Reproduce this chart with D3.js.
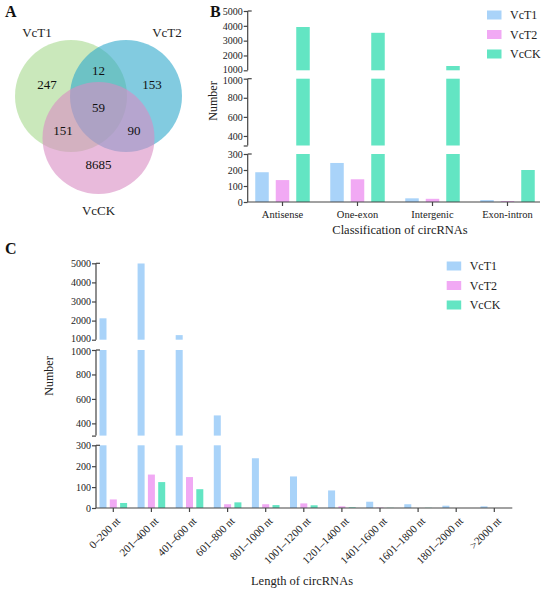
<!DOCTYPE html>
<html>
<head>
<meta charset="utf-8">
<script src="https://cdn.jsdelivr.net/npm/d3@7"></script>
<style>
	body { margin: 0; background: #fff; }
	svg { display: block; font-family: "Times New Roman", "Liberation Serif", serif; }
</style>
</head>
<body>
<svg id="chart" width="550" height="592"></svg>
<script>
// ---- data ----
var series = ['VcT1', 'VcT2', 'VcCK'];
var seriesColors = ['#a9d3f9', '#f1a9f4', '#63e5c3'];

// panel A : venn counts
var vennSets = ['VcT1', 'VcT2', 'VcCK'];
var vennColors = ['#a6d98d', '#2fa8cb', '#d98cc3'];
var vennRegions = ['T1', 'T2', 'CK', 'T1T2', 'T1CK', 'T2CK', 'all'];
var vennCounts = [247, 153, 8685, 12, 151, 90, 59];

// panel B : classification
var classCats = ['Antisense', 'One-exon', 'Intergenic', 'Exon-intron'];
var classT1 = [186, 244, 23, 12];
var classT2 = [137, 142, 20, 6];
var classCK = [3920, 3530, 1290, 200];

// panel C : length
var lenCats = ['0\u2013200 nt', '201\u2013400 nt', '401\u2013600 nt', '601\u2013800 nt', '801\u20131000 nt',
	'1001\u20131200 nt', '1201\u20131400 nt', '1401\u20131600 nt', '1601\u20131800 nt', '1801\u20132000 nt', '>2000 nt'];
var lenT1 = [2120, 4990, 1240, 465, 238, 151, 84, 30, 18, 11, 8];
var lenT2 = [41, 160, 148, 18, 18, 22, 8, 2, 0, 0, 0];
var lenCK = [24, 124, 90, 27, 14, 13, 3, 1, 1, 0, 0];

// broken y axis pieces (value domain + tick values)
var topTicks = [1000, 2000, 3000, 4000, 5000];
var midTicks = [300, 400, 600, 800, 1000];
var lowTicks = [0, 100, 200, 300];

var svg = d3.select('#chart');
var axisColor = '#444';

function panelLetter(t, x, y){
	svg.append('text').attr('x', x).attr('y', y).text(t)
		.attr('font-size', '16px').attr('font-weight', 'bold').attr('fill', '#111');
}

// ---------- panel A ----------
(function(){
	var r = 56;
	var centers = [[71, 96], [126, 96], [98.5, 138]];
	var g = svg.append('g');
	g.selectAll('circle').data(vennSets).enter().append('circle')
		.attr('cx', function(d, i){ return centers[i][0]; })
		.attr('cy', function(d, i){ return centers[i][1]; })
		.attr('r', r)
		.style('fill', function(d, i){ return vennColors[i]; })
		.style('fill-opacity', 0.6);
	// set names
	var namePos = [[centers[0][0] - 34, centers[0][1] - 59], [centers[1][0] + 41, centers[1][1] - 59], [centers[2][0], centers[2][1] + 77]];
	g.selectAll('.setname').data(vennSets).enter().append('text')
		.attr('class', 'setname')
		.attr('x', function(d, i){ return namePos[i][0]; })
		.attr('y', function(d, i){ return namePos[i][1]; })
		.attr('text-anchor', 'middle')
		.attr('font-size', '13px').attr('fill', '#222')
		.text(function(d){ return d; });
	// region label positions relative to circle centres
	var cx = (centers[0][0] + centers[1][0]) / 2;
	var regionPos = {
		T1: [centers[0][0] - 24, centers[0][1] - 12],
		T2: [centers[1][0] + 26, centers[1][1] - 12],
		CK: [centers[2][0], centers[2][1] + 26],
		T1T2: [cx, centers[0][1] - 26],
		T1CK: [centers[0][0] - 8, centers[2][1] - 8],
		T2CK: [centers[1][0] + 8, centers[2][1] - 8],
		all: [cx, centers[0][1] + 11]
	};
	g.selectAll('.cnt').data(vennRegions).enter().append('text')
		.attr('class', 'cnt')
		.attr('x', function(d){ return regionPos[d][0]; })
		.attr('y', function(d){ return regionPos[d][1]; })
		.attr('dy', '0.35em')
		.attr('text-anchor', 'middle')
		.attr('font-size', '13px').attr('fill', '#111')
		.text(function(d, i){ return vennCounts[i]; });
	panelLetter('A', 5, 17);
})();

// ---------- broken-axis bar chart ----------
function brokenBars(opt){
	var g = svg.append('g');
	var segs = opt.segments.map(function(s){
		return { lo: s.domain[0], hi: s.domain[1], ticks: s.ticks, labelled: s.labelled,
			y: d3.scaleLinear().domain(s.domain).range(s.range) };
	});
	var x0 = d3.scaleBand().domain(opt.cats).range(opt.xRange)
		.paddingInner(opt.groupPad).paddingOuter(opt.groupPad / 2);
	var x1 = d3.scaleBand().domain(series).range([0, x0.bandwidth()]).padding(opt.barPad);

	var rows = [];
	opt.cats.forEach(function(c, i){
		series.forEach(function(s, j){
			rows.push({ cat: c, series: s, color: seriesColors[j], value: opt.values[j][i] });
		});
	});

	// bars, one piece per axis segment
	segs.forEach(function(seg){
		g.append('g').selectAll('rect')
			.data(rows.filter(function(d){ return d.value > seg.lo; }))
			.enter().append('rect')
			.attr('x', function(d){ return x0(d.cat) + x1(d.series); })
			.attr('width', x1.bandwidth())
			.attr('y', function(d){ return seg.y(Math.min(d.value, seg.hi)); })
			.attr('height', function(d){ return seg.y(seg.lo) - seg.y(Math.min(d.value, seg.hi)); })
			.style('fill', function(d){ return d.color; });
	});

	// y axis segments
	segs.forEach(function(seg, si){
		var ax = d3.axisLeft(seg.y).tickValues(seg.ticks).tickSize(4).tickSizeOuter(4)
			.tickFormat(function(v){ return seg.labelled.indexOf(v) >= 0 ? v : ''; });
		var a = g.append('g').attr('transform', 'translate(' + opt.axisX + ',0)').call(ax)
			.attr('font-family', null).attr('font-size', null);
		a.selectAll('path, line').attr('stroke', axisColor).attr('stroke-width', 1.2);
		a.selectAll('text').attr('font-size', '10px').attr('fill', '#222').attr('x', -5);
		// the two "1000" labels at the break sit very close: nudge them apart a little
		a.selectAll('.tick text').filter(function(v){ return v === seg.lo && si === 0; }).attr('dy', '0.2em');
		a.selectAll('.tick text').filter(function(v){ return v === seg.hi && si === 1; }).attr('dy', '0.45em');
		a.select('.domain').remove();
		a.append('line').attr('x1', 0).attr('x2', 0)
			.attr('y1', seg.y.range()[0]).attr('y2', seg.y.range()[1])
			.attr('stroke', axisColor).attr('stroke-width', 1.2);
		a.append('line').attr('x1', 0).attr('x2', 4)
			.attr('y1', seg.y.range()[1]).attr('y2', seg.y.range()[1])
			.attr('stroke', axisColor).attr('stroke-width', 1.2);
	});

	// x axis
	var base = segs[segs.length - 1].y(0);
	var xa = d3.axisBottom(x0).tickSize(4).tickSizeOuter(0);
	var xg = g.append('g').attr('transform', 'translate(0,' + base + ')').call(xa)
		.attr('font-family', null).attr('font-size', null);
	xg.select('.domain').remove();
	xg.append('line').attr('x1', opt.axisX).attr('x2', opt.xEnd).attr('y1', 0).attr('y2', 0);
	xg.selectAll('path, line').attr('stroke', axisColor).attr('stroke-width', 1.2);
	var tl = xg.selectAll('.tick text').attr('fill', '#222');
	if (opt.rotate){
		tl.attr('font-size', '11px').attr('text-anchor', 'end')
			.attr('y', 0).attr('dy', '0.35em')
			.attr('transform', 'translate(5,11) rotate(-45)');
	} else {
		tl.attr('font-size', '10.5px').attr('y', 9);
	}

	// titles
	g.append('text').attr('x', opt.xTitle[0]).attr('y', opt.xTitle[1])
		.attr('text-anchor', 'middle').attr('font-size', '12.5px').attr('fill', '#222').text(opt.xLabel);
	g.append('text').attr('transform', 'translate(' + opt.yTitle[0] + ',' + opt.yTitle[1] + ') rotate(-90)')
		.attr('text-anchor', 'middle').attr('dy', '0.35em').attr('font-size', '12px').attr('fill', '#222').text('Number');

	// legend
	var lg = g.append('g').attr('transform', 'translate(' + opt.legend[0] + ',' + opt.legend[1] + ')');
	var li = lg.selectAll('g').data(series).enter().append('g')
		.attr('transform', function(d, i){ return 'translate(0,' + i * 19.5 + ')'; });
	li.append('rect').attr('x', 0).attr('y', -4.5).attr('width', 14.5).attr('height', 9)
		.style('fill', function(d, i){ return seriesColors[i]; });
	li.append('text').attr('x', 23).attr('dy', '0.35em').attr('font-size', '12px').attr('fill', '#222')
		.text(function(d){ return d; });
}

// panel B
brokenBars({
	cats: classCats,
	values: [classT1, classT2, classCK],
	segments: [
		{ domain: [1000, 5000], range: [70.3, 11], ticks: topTicks, labelled: topTicks },
		{ domain: [300, 1000], range: [145.5, 78.7], ticks: midTicks, labelled: [400, 600, 800, 1000] },
		{ domain: [0, 300], range: [202, 154], ticks: lowTicks, labelled: lowTicks }
	],
	xRange: [245, 545], groupPad: 0.087, barPad: 0.341,
	axisX: 247.7, xEnd: 540,
	xLabel: 'Classification of circRNAs', xTitle: [400, 234],
	yTitle: [212.5, 101],
	legend: [487, 15]
});
panelLetter('B', 210, 17);

// panel C
brokenBars({
	cats: lenCats,
	values: [lenT1, lenT2, lenCK],
	segments: [
		{ domain: [1000, 5000], range: [339.7, 263.3], ticks: topTicks, labelled: topTicks },
		{ domain: [300, 1000], range: [435.6, 350], ticks: midTicks, labelled: [400, 600, 800, 1000] },
		{ domain: [0, 300], range: [508, 445.3], ticks: lowTicks, labelled: lowTicks }
	],
	xRange: [94.25, 513.35], groupPad: 0.102, barPad: 0.32,
	axisX: 96, xEnd: 512.3, rotate: true,
	xLabel: 'Length of circRNAs', xTitle: [302, 585],
	yTitle: [49, 376],
	legend: [446.7, 266]
});
panelLetter('C', 5, 254);
</script>
</body>
</html>
